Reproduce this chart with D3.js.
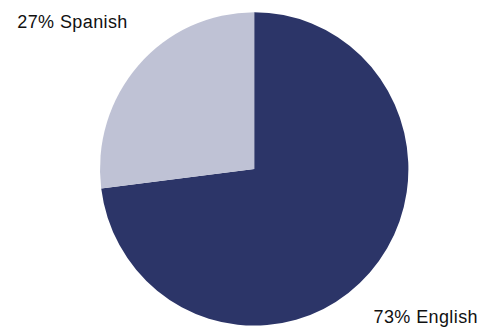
<!DOCTYPE html>
<html>
<head>
<meta charset="utf-8">
<script src="https://cdn.jsdelivr.net/npm/d3@7"></script>
<style>
  html, body { margin: 0; padding: 0; background: #fff; }
  svg { display: block; }
  text { font-family: "Liberation Sans", Arial, Helvetica, sans-serif; fill: #111; }
</style>
</head>
<body>
<script>
// Language share of respondents
const languages = ["English", "Spanish"];
const shares = [73, 27];
const sliceColors = ["#2c3568", "#bfc2d5"];

const width = 488, height = 327;
const cx = 254.2, cy = 168.9;
const rx = 154.2, ry = 156.7;

const svg = d3.select("body").append("svg")
  .attr("width", width)
  .attr("height", height);

const data = languages.map((name, i) => ({ name, value: shares[i] }));

const pie = d3.pie().value(d => d.value).sort(null);
const arc = d3.arc().innerRadius(0).outerRadius(rx);

const color = d3.scaleOrdinal().domain(languages).range(sliceColors);

svg.append("g")
  .attr("transform", `translate(${cx},${cy}) scale(1,${ry / rx})`)
  .selectAll("path")
  .data(pie(data))
  .join("path")
  .attr("d", arc)
  .attr("fill", d => color(d.data.name));

// Slice labels
const labelPos = { English: [373.5, 322.7], Spanish: [17.3, 27.6] };
svg.selectAll("text.label")
  .data(data)
  .join("text")
  .attr("class", "label")
  .attr("x", d => labelPos[d.name][0])
  .attr("y", d => labelPos[d.name][1])
  .attr("font-size", 18)
  .attr("letter-spacing", 0.4)
  .text(d => `${d.value}% ${d.name}`);
</script>
</body>
</html>
